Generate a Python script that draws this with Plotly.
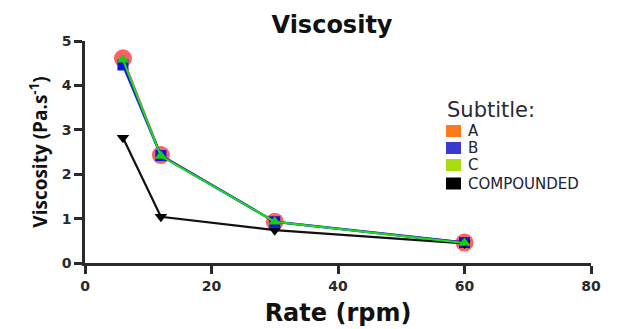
import plotly.graph_objects as go

rate = [6, 12, 30, 60]
visc_a = [4.61, 2.43, 0.93, 0.46]
visc_b = [4.46, 2.42, 0.93, 0.46]
visc_c = [4.58, 2.41, 0.93, 0.45]
visc_comp = [2.82, 1.04, 0.74, 0.44]

series_names = ["A", "B", "C", "COMPOUNDED"]
legend_colors = ["#ff7a1a", "#3a3acc", "#a8dc10", "#000000"]
legend_title = "Subtitle:"
x_ticks = [0, 20, 40, 60, 80]
y_ticks = [0, 1, 2, 3, 4, 5]

# layout geometry (pixels)
W, H = 623, 329
ML, MR, MT, MB = 85, 32, 41, 66
PW, PH = W - ML - MR, H - MT - MB

def px_to_paper(xp, yp):
    return (xp - ML) / PW, (H - MB - yp) / PH

fig = go.Figure()

fig.add_trace(go.Scatter(x=rate, y=visc_a, mode="lines+markers", showlegend=False,
                         line=dict(color="#ff3030", width=2),
                         marker=dict(symbol="circle", size=18, color="rgba(255,50,60,0.78)")))
fig.add_trace(go.Scatter(x=rate, y=visc_b, mode="lines+markers", showlegend=False,
                         line=dict(color="#2020e0", width=2.5),
                         marker=dict(symbol="square", size=11, color="#1010e0")))
fig.add_trace(go.Scatter(x=rate, y=visc_comp, mode="lines+markers", showlegend=False,
                         line=dict(color="#111111", width=2.2),
                         marker=dict(symbol="triangle-down", size=11, color="#000000")))
fig.add_trace(go.Scatter(x=rate, y=visc_c, mode="lines+markers", showlegend=False,
                         line=dict(color="#18e018", width=2),
                         marker=dict(symbol="triangle-up", size=11, color="#10d010")))

# legend (drawn as keys + labels)
shapes = []
annotations = []
tx, ty = px_to_paper(446, 110)
annotations.append(dict(text=legend_title, xref="paper", yref="paper", x=tx, y=ty,
                        xanchor="left", yanchor="middle", showarrow=False, borderpad=0,
                        font=dict(family="DejaVu Sans", size=21, color="#2a2a33")))
row_centers = [131, 148, 165, 183.5]
for name, col, cy in zip(series_names, legend_colors, row_centers):
    x0, y0 = px_to_paper(446, cy + 6)
    x1, y1 = px_to_paper(461, cy - 6)
    shapes.append(dict(type="rect", xref="paper", yref="paper", x0=x0, y0=y0, x1=x1, y1=y1,
                       fillcolor=col, line=dict(width=0)))
    lx, ly = px_to_paper(467, cy)
    annotations.append(dict(text=name, xref="paper", yref="paper", x=lx, y=ly,
                            xanchor="left", yanchor="middle", showarrow=False, borderpad=0,
                            font=dict(family="DejaVu Sans", size=15, color="#222233")))

axis_common = dict(showline=True, linecolor="#2a2a2a", linewidth=2.5, ticks="outside",
                   ticklen=8, tickwidth=2.5, tickcolor="#2a2a2a", showgrid=False, zeroline=False,
                   automargin=False,
                   tickfont=dict(family="DejaVu Sans", size=14, color="#2a2a2a", weight="bold"))

fig.update_layout(
    width=W, height=H,
    margin=dict(l=ML, r=MR, t=MT, b=MB),
    paper_bgcolor="white", plot_bgcolor="white",
    showlegend=False,
    title=dict(text="<b>Viscosity</b>", x=332 / W, xanchor="center", y=1 - 25 / H, yanchor="middle",
               font=dict(family="DejaVu Sans", size=24, color="#111111")),
    xaxis=dict(range=[0, 80], tickvals=x_ticks,
               title=dict(text="<b>Rate (rpm)</b>", standoff=12,
                          font=dict(family="DejaVu Sans", size=24, color="#111111")),
               **axis_common),
    yaxis=dict(range=[0, 5], tickvals=y_ticks,
               title=dict(text="<b>Viscosity (Pa.s<sup>-1</sup>)</b>", standoff=10,
                          font=dict(family="Open Sans", size=19, color="#111111")),
               **axis_common),
    shapes=shapes,
    annotations=annotations,
)

fig.write_html("out.html")
